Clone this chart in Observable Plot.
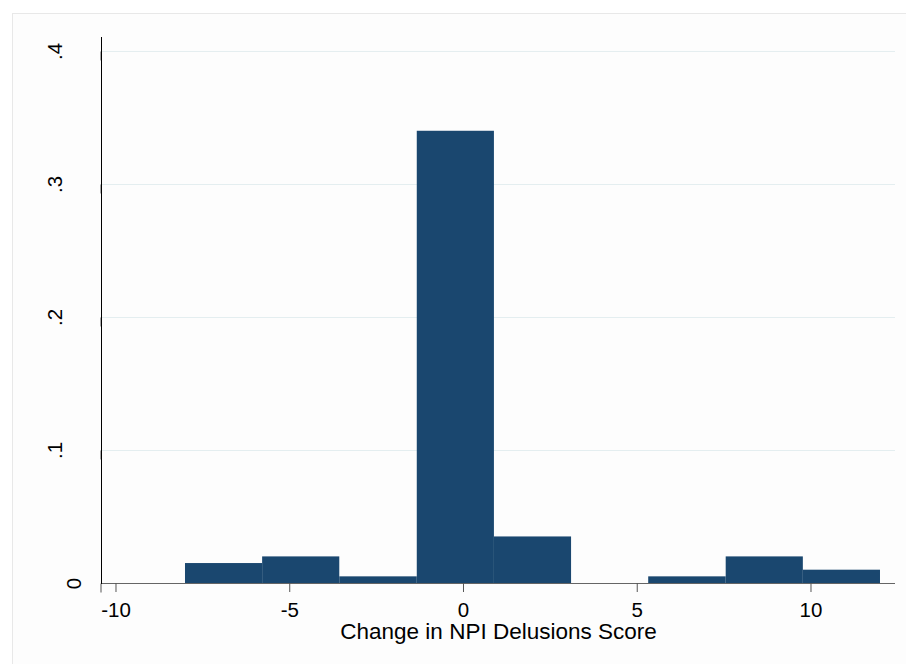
<!DOCTYPE html>
<html>
<head>
<meta charset="utf-8">
<script src="https://cdn.jsdelivr.net/npm/d3@7"></script>
<script src="https://cdn.jsdelivr.net/npm/@observablehq/plot@0.6"></script>
<style>
  body { margin: 0; background: #fff; }
  #wrap { position: relative; width: 906px; height: 664px; overflow: hidden; }
  #panel { position: absolute; left: 12px; top: 13px; width: 910px; height: 670px;
           border: 1px solid #e8e8e8; background: #fdfdfd; }
  #chart { position: absolute; left: 0; top: 0; }
</style>
</head>
<body>
<div id="wrap"><div id="panel"></div><div id="chart"></div></div>
<script>
// Histogram of change in NPI delusions score (density scale)
const binEdges = [-8, -5.78, -3.56, -1.33, 0.89, 3.11, 5.33, 7.56, 9.78, 12];
const density  = [0.015, 0.02, 0.005, 0.34, 0.035, 0, 0.005, 0.02, 0.01];
const xTicks = [-10, -5, 0, 5, 10];
const xTickLabels = ["-10", "-5", "0", "5", "10"];
const yTicks = [0, 0.1, 0.2, 0.3, 0.4];
const yTickLabels = ["0", ".1", ".2", ".3", ".4"];
const xTitle = "Change in NPI Delusions Score";

const bins = density.map((d, i) => ({x1: binEdges[i], x2: binEdges[i + 1], density: d}));
const font = "'Liberation Sans', Arial, sans-serif";
const yLabel = d => yTickLabels[yTicks.indexOf(d)];
const yAxisStyle = {
  tickSize: 9, fontSize: 20.5, label: null, stroke: "#555",
  tickFormat: yLabel, rotate: -90, textAnchor: "middle"
};

const chart = Plot.plot({
  width: 906,
  height: 664,
  marginLeft: 101,
  marginRight: 11,
  marginTop: 37,
  marginBottom: 81,
  style: {background: "transparent", fontFamily: font},
  x: {domain: [-10.417, 12.432]},
  y: {domain: [0, 0.4105]},
  marks: [
    Plot.gridY(yTicks.slice(1), {stroke: "#e4eef0", strokeOpacity: 1}),
    Plot.rectY(bins.filter(b => b.density > 0), {x1: "x1", x2: "x2", y: "density", fill: "#1a476f"}),
    Plot.ruleY([0], {stroke: "#000", strokeOpacity: 0.6}),
    Plot.axisX(xTicks, {
      tickSize: 9, tickPadding: 10, fontSize: 20.5, label: null, stroke: "#555",
      tickFormat: d => xTickLabels[xTicks.indexOf(d)]
    }),
    // the zero label sits closer to the axis than the decimal labels
    Plot.axisY(yTicks.slice(0, 1), {...yAxisStyle, tickPadding: 18}),
    Plot.axisY(yTicks.slice(1), {...yAxisStyle, tickPadding: 37}),
    Plot.frame({anchor: "left", stroke: "#000"}),
    Plot.text([xTitle], {frameAnchor: "bottom", dy: 40, lineAnchor: "top", fontSize: 22.5})
  ]
});
document.getElementById("chart").append(chart);
</script>
</body>
</html>
